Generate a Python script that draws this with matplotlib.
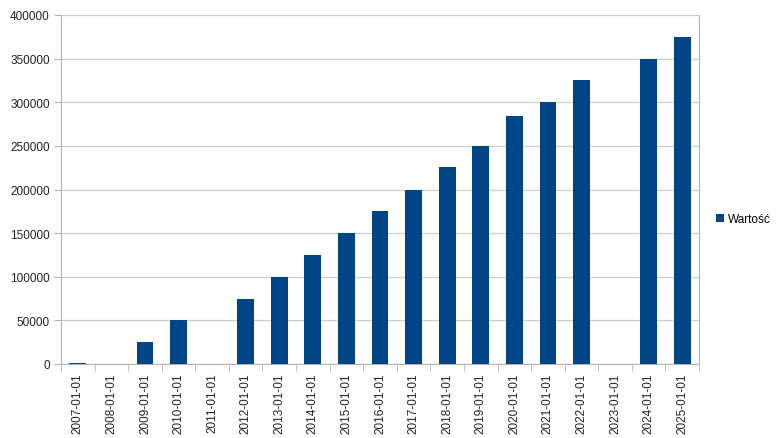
import matplotlib.pyplot as plt
import numpy as np

# Data
labels = ['2007-01-01', '2008-01-01', '2009-01-01', '2010-01-01', '2011-01-01',
          '2012-01-01', '2013-01-01', '2014-01-01', '2015-01-01', '2016-01-01',
          '2017-01-01', '2018-01-01', '2019-01-01', '2020-01-01', '2021-01-01',
          '2022-01-01', '2023-01-01', '2024-01-01', '2025-01-01']
values = [1500, 0, 25000, 50000, 0,
          74000, 100000, 124500, 150000, 175000,
          200000, 226000, 250000, 284000, 300000,
          326000, 0, 350000, 375000]

plt.rcParams['font.family'] = ['Liberation Sans', 'DejaVu Sans']

fig = plt.figure(figsize=(7.82, 4.39), dpi=100)
ax = fig.add_axes([61 / 782, 1 - 365 / 439, (699 - 61) / 782, (365 - 16) / 439])

x = np.arange(len(labels))
ax.bar(x, values, width=0.5, color='#004586', label='Wartość', zorder=3)

ax.set_xlim(-0.5, len(labels) - 0.5)
ax.set_ylim(0, 400000)
ax.set_yticks(range(0, 400001, 50000))
ax.set_yticklabels([str(v) for v in range(0, 400001, 50000)], fontsize=8.5, color='#222222')
ax.yaxis.grid(True, color='#cccccc', linewidth=0.9, zorder=0)

# category ticks on the boundaries, labels in the middle
ax.set_xticks(x)
ax.set_xticklabels(labels, rotation=90, fontsize=8.5, color='#222222')
ax.tick_params(axis='x', length=0, pad=6)
ax.set_xticks(np.arange(-0.5, len(labels), 1), minor=True)
ax.tick_params(axis='x', which='minor', length=5, color='#b3b3b3')
ax.tick_params(axis='y', length=5, color='#b3b3b3', pad=3)

for side in ['left', 'right', 'bottom']:
    ax.spines[side].set_color('#b3b3b3')
ax.spines['top'].set_visible(False)

ax.legend(loc='center left', bbox_to_anchor=(1.01, 0.415), frameon=False,
          fontsize=8.5, handlelength=0.7, handleheight=0.7, handletextpad=0.3)

fig.savefig('out.png', dpi=100)
